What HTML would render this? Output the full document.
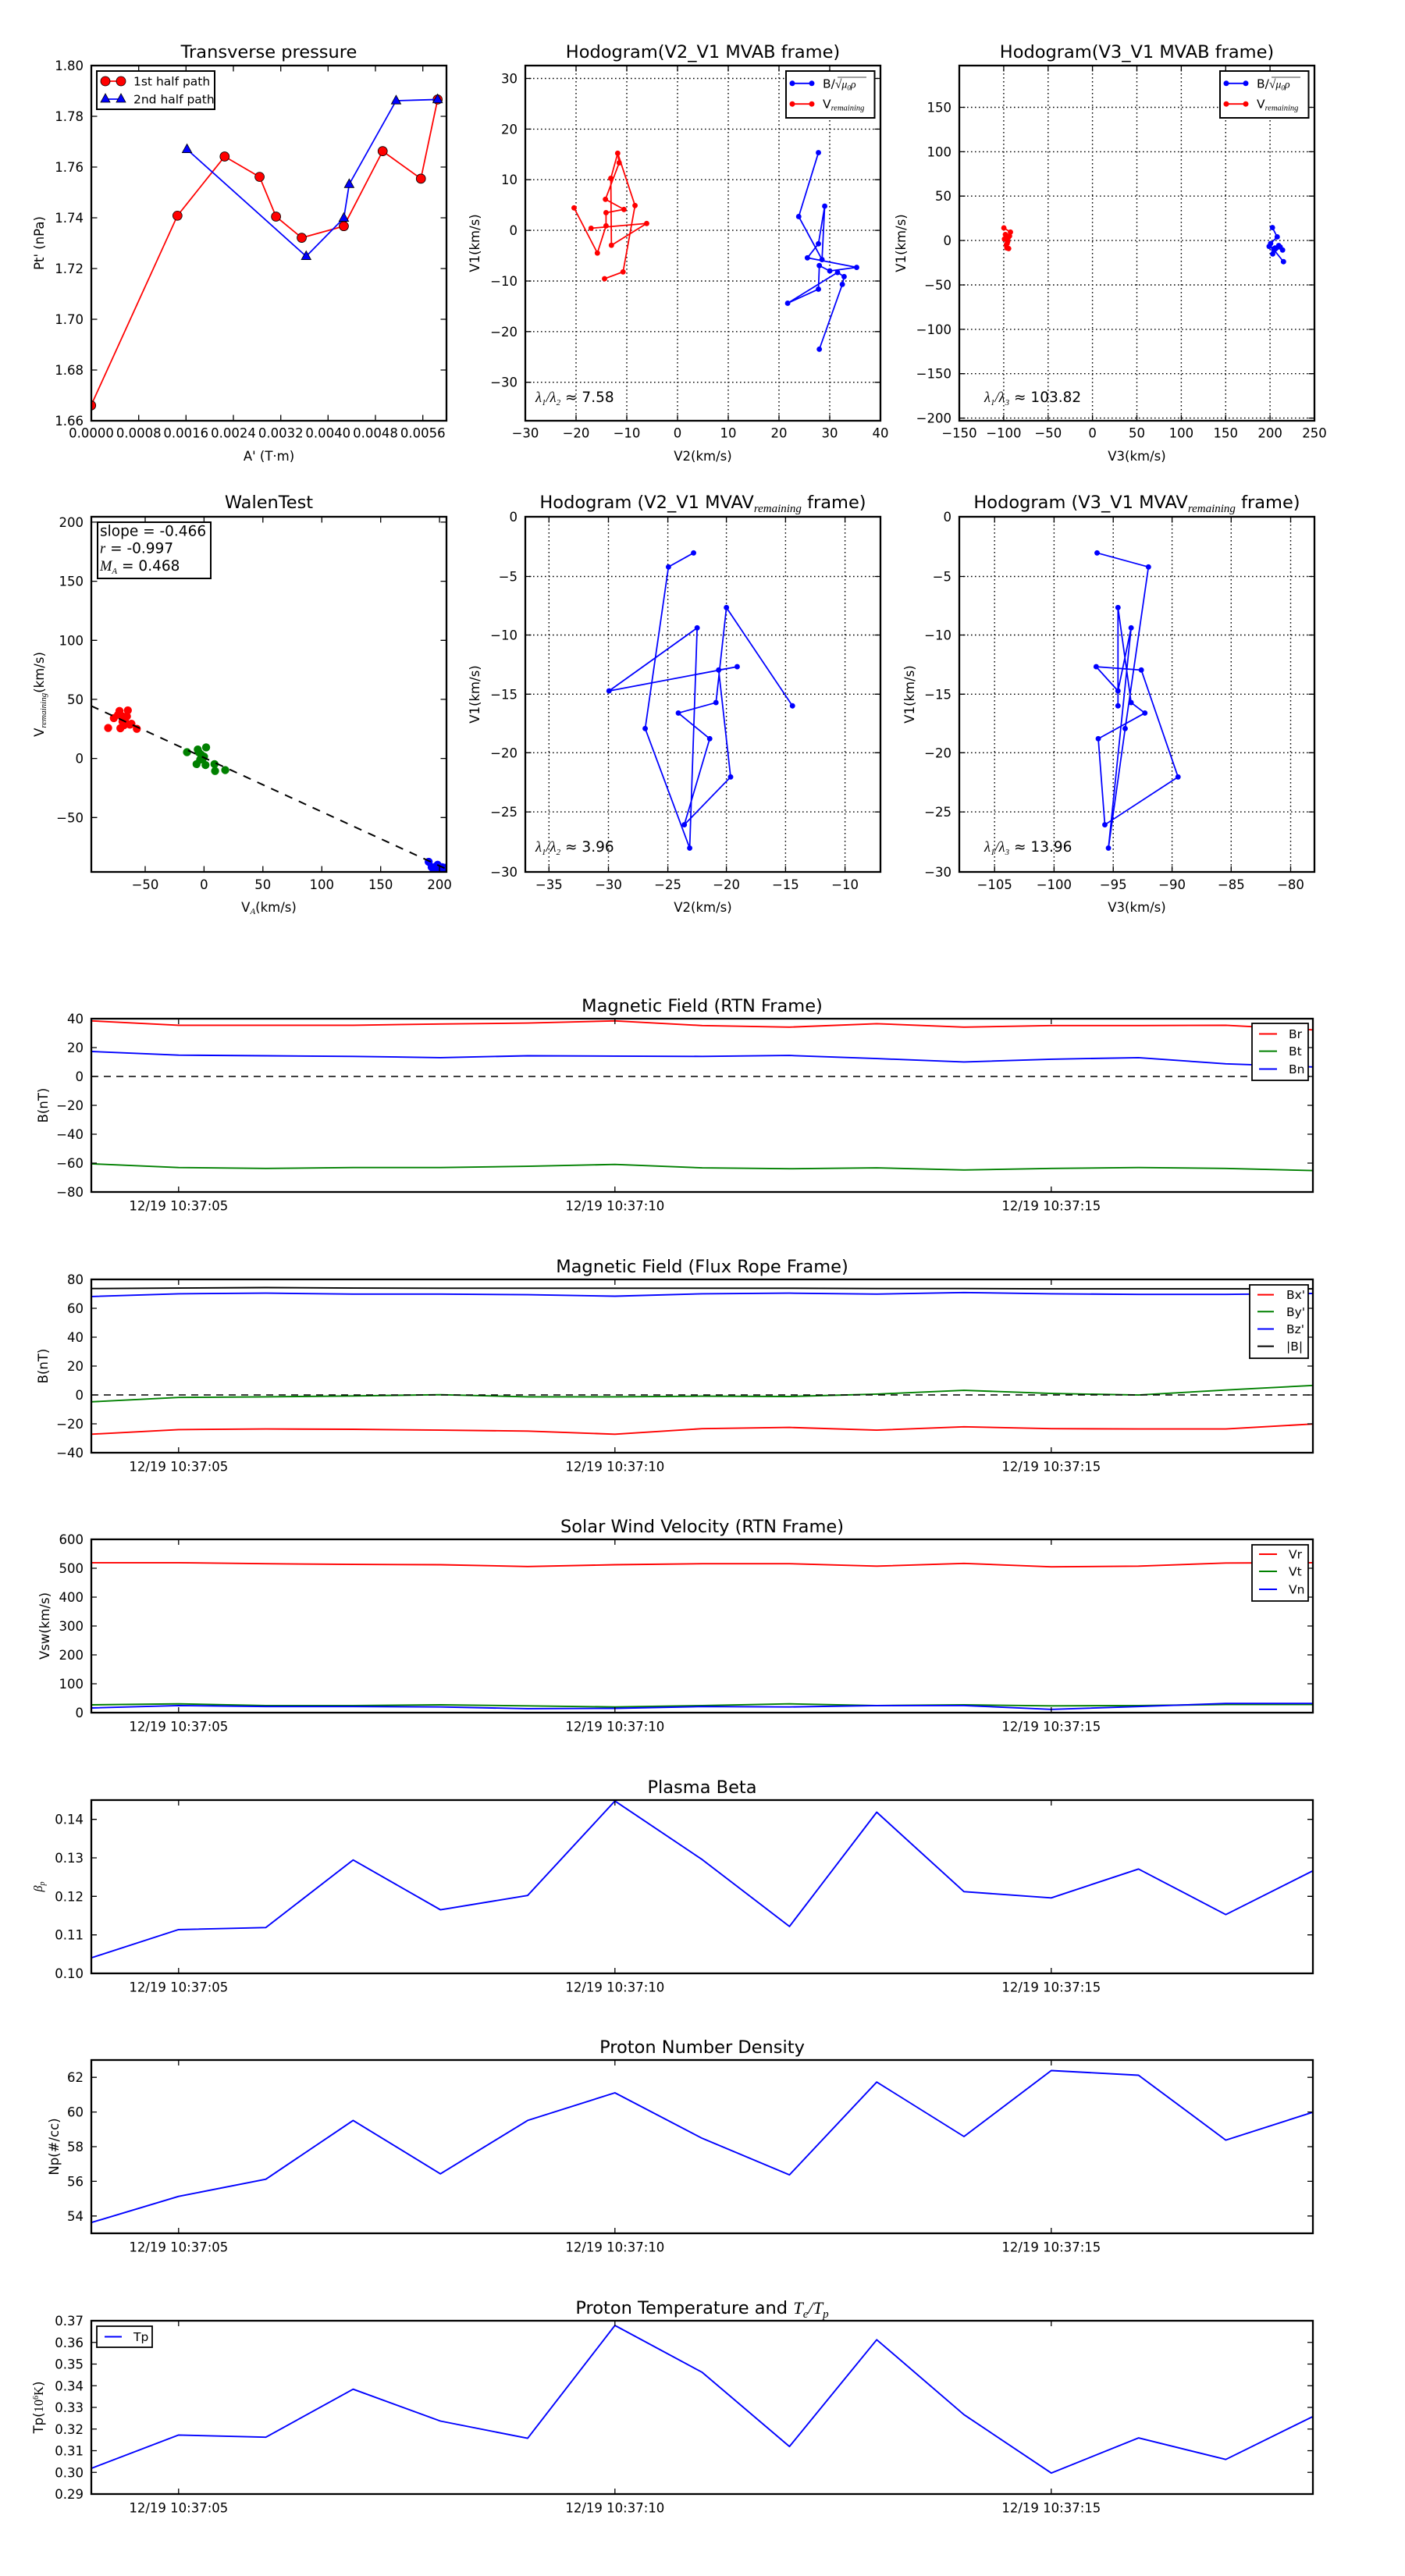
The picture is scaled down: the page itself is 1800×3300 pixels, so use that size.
<!DOCTYPE html>
<html>
<head>
<meta charset="utf-8">
<style>
html,body{margin:0;padding:0;background:#fff;}
svg{display:block;}
text{font-family:"DejaVu Sans","Liberation Sans",sans-serif;fill:#000;}
.tk{font-size:16.5px;}
.ti{font-size:22.5px;}
.lb{font-size:16.5px;}
.lg{font-size:15.5px;}
.m{font-family:"Liberation Serif","DejaVu Serif",serif;font-style:italic;}
.fr{fill:none;stroke:#000;stroke-width:2.3;}
.tks{fill:none;stroke:#000;stroke-width:1.3;}
.grid{fill:none;stroke:#000;stroke-width:1.4;stroke-dasharray:1.6,3.4;}
.ts{fill:none;stroke-width:1.9;stroke-linejoin:round;}
.zl{stroke:#000;stroke-width:1.4;stroke-dasharray:9,7;}
</style>
</head>
<body>
<svg width="1800" height="3300" viewBox="0 0 1800 3300" xmlns="http://www.w3.org/2000/svg">
<defs>
<clipPath id="cTL"><rect x="117" y="84" width="455" height="455"/></clipPath>
<clipPath id="cTM"><rect x="673" y="84" width="455" height="455"/></clipPath>
<clipPath id="cTR"><rect x="1229" y="84" width="455" height="455"/></clipPath>
<clipPath id="cWL"><rect x="117" y="662" width="455" height="455"/></clipPath>
<clipPath id="cMM"><rect x="673" y="662" width="455" height="455"/></clipPath>
<clipPath id="cMR"><rect x="1229" y="662" width="455" height="455"/></clipPath>
</defs>
<rect x="0" y="0" width="1800" height="3300" fill="#fff"/>

<!-- ================= TL: Transverse pressure ================= -->
<text class="ti" x="344.5" y="74" text-anchor="middle">Transverse pressure</text>
<g clip-path="url(#cTL)">
<g transform="scale(0.3827)">
<polyline points="305,1357 594,722 752,524 869,592 924,725 1010,796 1151,757 1281,506 1409,598 1465,333" fill="none" stroke="#f00" stroke-width="4.6"/>
<g fill="#f00" stroke="#000" stroke-width="2.2">
<circle cx="305" cy="1357" r="15.5"/><circle cx="594" cy="722" r="15.5"/><circle cx="752" cy="524" r="15.5"/><circle cx="869" cy="592" r="15.5"/><circle cx="924" cy="725" r="15.5"/><circle cx="1010" cy="796" r="15.5"/><circle cx="1151" cy="757" r="15.5"/><circle cx="1281" cy="506" r="15.5"/><circle cx="1409" cy="598" r="15.5"/><circle cx="1465" cy="333" r="15.5"/>
</g>
<polyline points="626,500 1025,858 1151,730 1169,617 1326,337 1465,333" fill="none" stroke="#00f" stroke-width="4.6"/>
<g fill="#00f" stroke="#000" stroke-width="2.2">
<path d="M626,482 L642,511 L610,511 Z"/><path d="M1025,840 L1041,869 L1009,869 Z"/><path d="M1151,712 L1167,741 L1135,741 Z"/><path d="M1169,599 L1185,628 L1153,628 Z"/><path d="M1326,319 L1342,348 L1310,348 Z"/><path d="M1465,315 L1481,344 L1449,344 Z"/>
</g>
</g>
</g>
<path class="tks" d="M177.7,539v-7.5M177.7,84v7.5M238.3,539v-7.5M238.3,84v7.5M299,539v-7.5M299,84v7.5M359.7,539v-7.5M359.7,84v7.5M420.3,539v-7.5M420.3,84v7.5M481,539v-7.5M481,84v7.5M541.7,539v-7.5M541.7,84v7.5M117,149h7.5M572,149h-7.5M117,214h7.5M572,214h-7.5M117,279h7.5M572,279h-7.5M117,344h7.5M572,344h-7.5M117,409h7.5M572,409h-7.5M117,474h7.5M572,474h-7.5"/>
<rect class="fr" x="117" y="84" width="455" height="455"/>
<g class="tk" text-anchor="middle">
<text x="117" y="560.5">0.0000</text><text x="177.7" y="560.5">0.0008</text><text x="238.3" y="560.5">0.0016</text><text x="299" y="560.5">0.0024</text><text x="359.7" y="560.5">0.0032</text><text x="420.3" y="560.5">0.0040</text><text x="481" y="560.5">0.0048</text><text x="541.7" y="560.5">0.0056</text>
</g>
<g class="tk" text-anchor="end">
<text x="107" y="90">1.80</text><text x="107" y="155">1.78</text><text x="107" y="220">1.76</text><text x="107" y="285">1.74</text><text x="107" y="350">1.72</text><text x="107" y="415">1.70</text><text x="107" y="480">1.68</text><text x="107" y="545">1.66</text>
</g>
<text class="lb" x="344.5" y="590" text-anchor="middle">A' (T·m)</text>
<text class="lb" transform="translate(56,311.5) rotate(-90)" text-anchor="middle">Pt' (nPa)</text>
<rect x="124" y="91" width="151" height="49" fill="#fff" stroke="#000" stroke-width="2"/>
<line x1="135" y1="104" x2="155" y2="104" stroke="#f00" stroke-width="1.8"/>
<circle cx="135" cy="104" r="6" fill="#f00" stroke="#000" stroke-width="0.8"/><circle cx="155" cy="104" r="6" fill="#f00" stroke="#000" stroke-width="0.8"/>
<text class="lg" x="171" y="109.5">1st half path</text>
<line x1="135" y1="127" x2="155" y2="127" stroke="#00f" stroke-width="1.8"/>
<path d="M135,120 L141,131 L129,131 Z M155,120 L161,131 L149,131 Z" fill="#00f" stroke="#000" stroke-width="0.8"/>
<text class="lg" x="171" y="132.5">2nd half path</text>

<!-- ================= TM: Hodogram V2_V1 MVAB ================= -->
<text class="ti" x="900.5" y="74" text-anchor="middle">Hodogram(V2_V1 MVAB frame)</text>
<path class="grid" d="M738,84V539M803,84V539M868,84V539M933,84V539M998,84V539M1063,84V539M673,100.5H1128M673,165.4H1128M673,230.2H1128M673,295.1H1128M673,360H1128M673,424.8H1128M673,489.7H1128"/>
<g clip-path="url(#cTM)">
<g transform="translate(600,0) scale(0.3827)">
<g fill="none" stroke="#f00" stroke-width="4.6" stroke-linejoin="round">
<polyline points="354,696 432,847 461,756 461,712 521,701 459,667 505,545 500,513 558,688 518,910 456,933"/>
<polyline points="411,764 597,748 479,821 477,597 500,513"/>
</g>
<g fill="#f00">
<circle cx="354" cy="696" r="9"/><circle cx="432" cy="847" r="9"/><circle cx="461" cy="756" r="9"/><circle cx="461" cy="712" r="9"/><circle cx="521" cy="701" r="9"/><circle cx="459" cy="667" r="9"/><circle cx="505" cy="545" r="9"/><circle cx="500" cy="513" r="9"/><circle cx="558" cy="688" r="9"/><circle cx="518" cy="910" r="9"/><circle cx="456" cy="933" r="9"/><circle cx="411" cy="764" r="9"/><circle cx="597" cy="748" r="9"/><circle cx="479" cy="821" r="9"/><circle cx="477" cy="597" r="9"/>
</g>
<polyline points="1172,511 1106,725 1184,869 1193,690 1172,816 1135,863 1300,895 1210,907 1175,889 1172,968 1069,1015 1236,912 1258,926 1252,952 1175,1169" fill="none" stroke="#00f" stroke-width="4.6" stroke-linejoin="round"/>
<g fill="#00f">
<circle cx="1172" cy="511" r="9"/><circle cx="1106" cy="725" r="9"/><circle cx="1184" cy="869" r="9"/><circle cx="1193" cy="690" r="9"/><circle cx="1172" cy="816" r="9"/><circle cx="1135" cy="863" r="9"/><circle cx="1300" cy="895" r="9"/><circle cx="1210" cy="907" r="9"/><circle cx="1175" cy="889" r="9"/><circle cx="1172" cy="968" r="9"/><circle cx="1069" cy="1015" r="9"/><circle cx="1236" cy="912" r="9"/><circle cx="1258" cy="926" r="9"/><circle cx="1252" cy="952" r="9"/><circle cx="1175" cy="1169" r="9"/>
</g>
</g>
</g>
<path class="tks" d="M738,539v-7.5M738,84v7.5M803,539v-7.5M803,84v7.5M868,539v-7.5M868,84v7.5M933,539v-7.5M933,84v7.5M998,539v-7.5M998,84v7.5M1063,539v-7.5M1063,84v7.5M673,100.5h7.5M1128,100.5h-7.5M673,165.4h7.5M1128,165.4h-7.5M673,230.2h7.5M1128,230.2h-7.5M673,295.1h7.5M1128,295.1h-7.5M673,360h7.5M1128,360h-7.5M673,424.8h7.5M1128,424.8h-7.5M673,489.7h7.5M1128,489.7h-7.5"/>
<rect class="fr" x="673" y="84" width="455" height="455"/>
<g class="tk" text-anchor="middle">
<text x="673" y="560.5">−30</text><text x="738" y="560.5">−20</text><text x="803" y="560.5">−10</text><text x="868" y="560.5">0</text><text x="933" y="560.5">10</text><text x="998" y="560.5">20</text><text x="1063" y="560.5">30</text><text x="1128" y="560.5">40</text>
</g>
<g class="tk" text-anchor="end">
<text x="663" y="106.5">30</text><text x="663" y="171.4">20</text><text x="663" y="236.2">10</text><text x="663" y="301.1">0</text><text x="663" y="366">−10</text><text x="663" y="430.8">−20</text><text x="663" y="495.7">−30</text>
</g>
<text class="lb" x="900.5" y="590" text-anchor="middle">V2(km/s)</text>
<text class="lb" transform="translate(614,311.5) rotate(-90)" text-anchor="middle">V1(km/s)</text>
<rect x="1007" y="91" width="113.5" height="60" fill="#fff" stroke="#000" stroke-width="2"/>
<line x1="1015" y1="106.8" x2="1040" y2="106.8" stroke="#00f" stroke-width="1.8"/>
<circle cx="1015" cy="106.8" r="3.5" fill="#00f"/><circle cx="1040" cy="106.8" r="3.5" fill="#00f"/>
<text class="lg" x="1054" y="112.5">B/<tspan class="m">√</tspan><tspan class="m" font-size="14">μ</tspan><tspan class="m" font-size="9" dy="3">0</tspan><tspan class="m" font-size="14" dy="-3">ρ</tspan></text>
<line x1="1073" y1="99" x2="1110" y2="99" stroke="#000" stroke-width="0.8"/>
<line x1="1015" y1="133.2" x2="1040" y2="133.2" stroke="#f00" stroke-width="1.8"/>
<circle cx="1015" cy="133.2" r="3.5" fill="#f00"/><circle cx="1040" cy="133.2" r="3.5" fill="#f00"/>
<text class="lg" x="1054" y="138.5">V<tspan class="m" font-size="10.5" dy="3">remaining</tspan></text>
<text x="686" y="515" font-size="18.5"><tspan class="m">λ</tspan><tspan class="m" font-size="11" dy="4">1</tspan><tspan class="m" dy="-4">/λ</tspan><tspan class="m" font-size="11" dy="4">2</tspan><tspan dy="-4"> ≈ 7.58</tspan></text>

<!-- ================= TR: Hodogram V3_V1 MVAB ================= -->
<text class="ti" x="1456.5" y="74" text-anchor="middle">Hodogram(V3_V1 MVAB frame)</text>
<path class="grid" d="M1285.9,84V539M1342.8,84V539M1399.6,84V539M1456.5,84V539M1513.4,84V539M1570.3,84V539M1627.1,84V539M1229,137.5H1684M1229,194.4H1684M1229,251.2H1684M1229,308.1H1684M1229,365H1684M1229,421.9H1684M1229,478.7H1684M1229,535.6H1684"/>
<g clip-path="url(#cTR)">
<g transform="translate(1200,0) scale(0.3827)">
<polyline points="225,763 247,777 227,800 240,795 235,830 241,832 233,820 238,808 244,790 230,785 236,815" fill="none" stroke="#f00" stroke-width="4.6" stroke-linejoin="round"/>
<g fill="#f00">
<circle cx="225" cy="763" r="9"/><circle cx="247" cy="777" r="9"/><circle cx="227" cy="800" r="9"/><circle cx="240" cy="795" r="9"/><circle cx="235" cy="830" r="9"/><circle cx="241" cy="832" r="9"/><circle cx="233" cy="820" r="9"/><circle cx="238" cy="808" r="9"/><circle cx="244" cy="790" r="9"/><circle cx="230" cy="785" r="9"/><circle cx="236" cy="815" r="9"/>
</g>
<polyline points="1124,762 1140,793 1118,815 1113,825 1133,830 1125,850 1150,827 1158,837 1145,822 1128,835 1161,876" fill="none" stroke="#00f" stroke-width="4.6" stroke-linejoin="round"/>
<g fill="#00f">
<circle cx="1124" cy="762" r="9"/><circle cx="1140" cy="793" r="9"/><circle cx="1118" cy="815" r="9"/><circle cx="1113" cy="825" r="9"/><circle cx="1133" cy="830" r="9"/><circle cx="1125" cy="850" r="9"/><circle cx="1150" cy="827" r="9"/><circle cx="1158" cy="837" r="9"/><circle cx="1145" cy="822" r="9"/><circle cx="1128" cy="835" r="9"/><circle cx="1161" cy="876" r="9"/>
</g>
</g>
</g>
<path class="tks" d="M1285.9,539v-7.5M1285.9,84v7.5M1342.8,539v-7.5M1342.8,84v7.5M1399.6,539v-7.5M1399.6,84v7.5M1456.5,539v-7.5M1456.5,84v7.5M1513.4,539v-7.5M1513.4,84v7.5M1570.3,539v-7.5M1570.3,84v7.5M1627.1,539v-7.5M1627.1,84v7.5M1229,137.5h7.5M1684,137.5h-7.5M1229,194.4h7.5M1684,194.4h-7.5M1229,251.2h7.5M1684,251.2h-7.5M1229,308.1h7.5M1684,308.1h-7.5M1229,365h7.5M1684,365h-7.5M1229,421.9h7.5M1684,421.9h-7.5M1229,478.7h7.5M1684,478.7h-7.5M1229,535.6h7.5M1684,535.6h-7.5"/>
<rect class="fr" x="1229" y="84" width="455" height="455"/>
<g class="tk" text-anchor="middle">
<text x="1229" y="560.5">−150</text><text x="1285.9" y="560.5">−100</text><text x="1342.8" y="560.5">−50</text><text x="1399.6" y="560.5">0</text><text x="1456.5" y="560.5">50</text><text x="1513.4" y="560.5">100</text><text x="1570.3" y="560.5">150</text><text x="1627.1" y="560.5">200</text><text x="1684" y="560.5">250</text>
</g>
<g class="tk" text-anchor="end">
<text x="1219" y="143.5">150</text><text x="1219" y="200.4">100</text><text x="1219" y="257.2">50</text><text x="1219" y="314.1">0</text><text x="1219" y="371">−50</text><text x="1219" y="427.9">−100</text><text x="1219" y="484.7">−150</text><text x="1219" y="541.6">−200</text>
</g>
<text class="lb" x="1456.5" y="590" text-anchor="middle">V3(km/s)</text>
<text class="lb" transform="translate(1160,311.5) rotate(-90)" text-anchor="middle">V1(km/s)</text>
<rect x="1563" y="91" width="113.5" height="60" fill="#fff" stroke="#000" stroke-width="2"/>
<line x1="1571" y1="106.8" x2="1596" y2="106.8" stroke="#00f" stroke-width="1.8"/>
<circle cx="1571" cy="106.8" r="3.5" fill="#00f"/><circle cx="1596" cy="106.8" r="3.5" fill="#00f"/>
<text class="lg" x="1610" y="112.5">B/<tspan class="m">√</tspan><tspan class="m" font-size="14">μ</tspan><tspan class="m" font-size="9" dy="3">0</tspan><tspan class="m" font-size="14" dy="-3">ρ</tspan></text>
<line x1="1629" y1="99" x2="1666" y2="99" stroke="#000" stroke-width="0.8"/>
<line x1="1571" y1="133.2" x2="1596" y2="133.2" stroke="#f00" stroke-width="1.8"/>
<circle cx="1571" cy="133.2" r="3.5" fill="#f00"/><circle cx="1596" cy="133.2" r="3.5" fill="#f00"/>
<text class="lg" x="1610" y="138.5">V<tspan class="m" font-size="10.5" dy="3">remaining</tspan></text>
<text x="1261" y="515" font-size="18.5"><tspan class="m">λ</tspan><tspan class="m" font-size="11" dy="4">1</tspan><tspan class="m" dy="-4">/λ</tspan><tspan class="m" font-size="11" dy="4">3</tspan><tspan dy="-4"> ≈ 103.82</tspan></text>

<!-- ================= WL: WalenTest ================= -->
<text class="ti" x="344.5" y="651" text-anchor="middle">WalenTest</text>
<g clip-path="url(#cWL)">
<g transform="translate(0,600) scale(0.3827)">
<g fill="#f00">
<circle cx="362" cy="869" r="13.5"/><circle cx="381" cy="836" r="13.5"/><circle cx="400" cy="812" r="13.5"/><circle cx="403" cy="870" r="13.5"/><circle cx="410" cy="830" r="13.5"/><circle cx="418" cy="843" r="13.5"/><circle cx="428" cy="810" r="13.5"/><circle cx="425" cy="830" r="13.5"/><circle cx="435" cy="858" r="13.5"/><circle cx="415" cy="860" r="13.5"/><circle cx="458" cy="872" r="13.5"/><circle cx="440" cy="855" r="13.5"/><circle cx="395" cy="825" r="13.5"/><circle cx="410" cy="848" r="13.5"/>
</g>
<g fill="#008000">
<circle cx="626" cy="950" r="13.5"/><circle cx="662" cy="941" r="13.5"/><circle cx="690" cy="934" r="13.5"/><circle cx="658" cy="990" r="13.5"/><circle cx="688" cy="993" r="13.5"/><circle cx="718" cy="990" r="13.5"/><circle cx="720" cy="1013" r="13.5"/><circle cx="754" cy="1010" r="13.5"/><circle cx="673" cy="958" r="13.5"/><circle cx="680" cy="970" r="13.5"/><circle cx="670" cy="975" r="13.5"/><circle cx="665" cy="950" r="13.5"/><circle cx="683" cy="965" r="13.5"/>
</g>
<g fill="#00f">
<circle cx="1435" cy="1317" r="13.5"/><circle cx="1445" cy="1335" r="13.5"/><circle cx="1465" cy="1327" r="13.5"/><circle cx="1480" cy="1335" r="13.5"/><circle cx="1490" cy="1337" r="13.5"/><circle cx="1450" cy="1340" r="13.5"/><circle cx="1470" cy="1340" r="13.5"/><circle cx="1460" cy="1332" r="13.5"/>
</g>
<line x1="305" y1="795" x2="1492" y2="1340" stroke="#000" stroke-width="5.2" stroke-dasharray="27,24"/>
</g>
</g>
<path class="tks" d="M186,1117v-7.5M186,662v7.5M261.4,1117v-7.5M261.4,662v7.5M336.8,1117v-7.5M336.8,662v7.5M412.3,1117v-7.5M412.3,662v7.5M487.7,1117v-7.5M487.7,662v7.5M563.1,1117v-7.5M563.1,662v7.5M117,668.9h7.5M572,668.9h-7.5M117,744.6h7.5M572,744.6h-7.5M117,820.3h7.5M572,820.3h-7.5M117,895.9h7.5M572,895.9h-7.5M117,971.6h7.5M572,971.6h-7.5M117,1047.3h7.5M572,1047.3h-7.5"/>
<rect class="fr" x="117" y="662" width="455" height="455"/>
<g class="tk" text-anchor="middle">
<text x="186" y="1139">−50</text><text x="261.4" y="1139">0</text><text x="336.8" y="1139">50</text><text x="412.3" y="1139">100</text><text x="487.7" y="1139">150</text><text x="563.1" y="1139">200</text>
</g>
<g class="tk" text-anchor="end">
<text x="107" y="674.9">200</text><text x="107" y="750.6">150</text><text x="107" y="826.3">100</text><text x="107" y="901.9">50</text><text x="107" y="977.6">0</text><text x="107" y="1053.3">−50</text>
</g>
<text class="lb" x="344.5" y="1168" text-anchor="middle">V<tspan class="m" font-size="11" dy="3">A</tspan><tspan dy="-3">(km/s)</tspan></text>
<text class="lb" transform="translate(56,889.5) rotate(-90)" text-anchor="middle">V<tspan class="m" font-size="11" dy="3">remaining</tspan><tspan dy="-3">(km/s)</tspan></text>
<rect x="125" y="669" width="145" height="72" fill="#fff" stroke="#000" stroke-width="2"/>
<text x="128" y="686.5" font-size="18.5">slope = -0.466</text>
<text x="128" y="708.5" font-size="18.5"><tspan class="m">r</tspan> = -0.997</text>
<text x="128" y="731" font-size="18.5"><tspan class="m">M</tspan><tspan class="m" font-size="11" dy="4">A</tspan><tspan dy="-4"> = 0.468</tspan></text>

<!-- ================= MM: Hodogram V2_V1 MVAV ================= -->
<text class="ti" x="900.5" y="651" text-anchor="middle">Hodogram (V2_V1 MVAV<tspan class="m" font-size="15" dy="5">remaining</tspan><tspan dy="-5"> frame)</tspan></text>
<path class="grid" d="M703.3,662V1117M779.5,662V1117M855.6,662V1117M930.6,662V1117M1006.4,662V1117M1082.6,662V1117M673,738.5H1128M673,813.5H1128M673,889.3H1128M673,964.3H1128M673,1040.1H1128"/>
<g clip-path="url(#cMM)">
<g transform="translate(600,600) scale(0.3827)">
<polyline points="754,283 670,330 592,871 741,1271 766,534 471,745 900,664 838,675 878,1033 723,1193 808,905 703,819 829,784 864,466 1085,795" fill="none" stroke="#00f" stroke-width="4.6" stroke-linejoin="round"/>
<g fill="#00f">
<circle cx="754" cy="283" r="9"/><circle cx="670" cy="330" r="9"/><circle cx="592" cy="871" r="9"/><circle cx="741" cy="1271" r="9"/><circle cx="766" cy="534" r="9"/><circle cx="471" cy="745" r="9"/><circle cx="900" cy="664" r="9"/><circle cx="838" cy="675" r="9"/><circle cx="878" cy="1033" r="9"/><circle cx="723" cy="1193" r="9"/><circle cx="808" cy="905" r="9"/><circle cx="703" cy="819" r="9"/><circle cx="829" cy="784" r="9"/><circle cx="864" cy="466" r="9"/><circle cx="1085" cy="795" r="9"/>
</g>
</g>
</g>
<path class="tks" d="M703.3,1117v-7.5M703.3,662v7.5M779.5,1117v-7.5M779.5,662v7.5M855.6,1117v-7.5M855.6,662v7.5M930.6,1117v-7.5M930.6,662v7.5M1006.4,1117v-7.5M1006.4,662v7.5M1082.6,1117v-7.5M1082.6,662v7.5M673,738.5h7.5M1128,738.5h-7.5M673,813.5h7.5M1128,813.5h-7.5M673,889.3h7.5M1128,889.3h-7.5M673,964.3h7.5M1128,964.3h-7.5M673,1040.1h7.5M1128,1040.1h-7.5"/>
<rect class="fr" x="673" y="662" width="455" height="455"/>
<g class="tk" text-anchor="middle">
<text x="703.3" y="1139">−35</text><text x="779.5" y="1139">−30</text><text x="855.6" y="1139">−25</text><text x="930.6" y="1139">−20</text><text x="1006.4" y="1139">−15</text><text x="1082.6" y="1139">−10</text>
</g>
<g class="tk" text-anchor="end">
<text x="663" y="668">0</text><text x="663" y="744.5">−5</text><text x="663" y="819.5">−10</text><text x="663" y="895.3">−15</text><text x="663" y="970.3">−20</text><text x="663" y="1046.1">−25</text><text x="663" y="1123">−30</text>
</g>
<text class="lb" x="900.5" y="1168" text-anchor="middle">V2(km/s)</text>
<text class="lb" transform="translate(614,889.5) rotate(-90)" text-anchor="middle">V1(km/s)</text>
<text x="686" y="1091" font-size="18.5"><tspan class="m">λ</tspan><tspan class="m" font-size="11" dy="4">1</tspan><tspan class="m" dy="-4">/λ</tspan><tspan class="m" font-size="11" dy="4">2</tspan><tspan dy="-4"> ≈ 3.96</tspan></text>

<!-- ================= MR: Hodogram V3_V1 MVAV ================= -->
<text class="ti" x="1456.5" y="651" text-anchor="middle">Hodogram (V3_V1 MVAV<tspan class="m" font-size="15" dy="5">remaining</tspan><tspan dy="-5"> frame)</tspan></text>
<path class="grid" d="M1274.2,662V1117M1350.4,662V1117M1426.2,662V1117M1501.6,662V1117M1577.3,662V1117M1653.5,662V1117M1229,738.5H1684M1229,813.5H1684M1229,889.3H1684M1229,964.3H1684M1229,1040.1H1684"/>
<g clip-path="url(#cMR)">
<g transform="translate(1200,600) scale(0.3827)">
<polyline points="537,283 709,330 631,871 575,1271 651,534 607,745 534,664 685,675 808,1033 563,1193 541,905 697,819 651,784 607,466 607,795" fill="none" stroke="#00f" stroke-width="4.6" stroke-linejoin="round"/>
<g fill="#00f">
<circle cx="537" cy="283" r="9"/><circle cx="709" cy="330" r="9"/><circle cx="631" cy="871" r="9"/><circle cx="575" cy="1271" r="9"/><circle cx="651" cy="534" r="9"/><circle cx="607" cy="745" r="9"/><circle cx="534" cy="664" r="9"/><circle cx="685" cy="675" r="9"/><circle cx="808" cy="1033" r="9"/><circle cx="563" cy="1193" r="9"/><circle cx="541" cy="905" r="9"/><circle cx="697" cy="819" r="9"/><circle cx="651" cy="784" r="9"/><circle cx="607" cy="466" r="9"/><circle cx="607" cy="795" r="9"/>
</g>
</g>
</g>
<path class="tks" d="M1274.2,1117v-7.5M1274.2,662v7.5M1350.4,1117v-7.5M1350.4,662v7.5M1426.2,1117v-7.5M1426.2,662v7.5M1501.6,1117v-7.5M1501.6,662v7.5M1577.3,1117v-7.5M1577.3,662v7.5M1653.5,1117v-7.5M1653.5,662v7.5M1229,738.5h7.5M1684,738.5h-7.5M1229,813.5h7.5M1684,813.5h-7.5M1229,889.3h7.5M1684,889.3h-7.5M1229,964.3h7.5M1684,964.3h-7.5M1229,1040.1h7.5M1684,1040.1h-7.5"/>
<rect class="fr" x="1229" y="662" width="455" height="455"/>
<g class="tk" text-anchor="middle">
<text x="1274.2" y="1139">−105</text><text x="1350.4" y="1139">−100</text><text x="1426.2" y="1139">−95</text><text x="1501.6" y="1139">−90</text><text x="1577.3" y="1139">−85</text><text x="1653.5" y="1139">−80</text>
</g>
<g class="tk" text-anchor="end">
<text x="1219" y="668">0</text><text x="1219" y="744.5">−5</text><text x="1219" y="819.5">−10</text><text x="1219" y="895.3">−15</text><text x="1219" y="970.3">−20</text><text x="1219" y="1046.1">−25</text><text x="1219" y="1123">−30</text>
</g>
<text class="lb" x="1456.5" y="1168" text-anchor="middle">V3(km/s)</text>
<text class="lb" transform="translate(1171,889.5) rotate(-90)" text-anchor="middle">V1(km/s)</text>
<text x="1261" y="1091" font-size="18.5"><tspan class="m">λ</tspan><tspan class="m" font-size="11" dy="4">1</tspan><tspan class="m" dy="-4">/λ</tspan><tspan class="m" font-size="11" dy="4">3</tspan><tspan dy="-4"> ≈ 13.96</tspan></text>

<!-- ================= TS1: Magnetic Field RTN ================= -->
<text class="ti" x="899.5" y="1296" text-anchor="middle">Magnetic Field (RTN Frame)</text>
<polyline class="ts" stroke="#f00" points="117,1307.8 228.8,1313.4 340.6,1313.4 452.4,1313.4 564.2,1311.8 676,1310.6 787.8,1307.8 899.6,1313.8 1011.4,1315.8 1123.2,1311.4 1235,1315.8 1346.8,1313.8 1458.6,1313.8 1570.4,1313.4 1682.2,1319.3"/>
<polyline class="ts" stroke="#008000" points="117,1490.9 228.8,1495.7 340.6,1496.8 452.4,1495.7 564.2,1495.7 676,1494.1 787.8,1491.7 899.6,1496.1 1011.4,1497.2 1123.2,1496.1 1235,1498.8 1346.8,1496.8 1458.6,1495.7 1570.4,1496.8 1682.2,1499.6"/>
<polyline class="ts" stroke="#00f" points="117,1347 228.8,1351.7 340.6,1352.5 452.4,1353.3 564.2,1354.9 676,1352.5 787.8,1352.9 899.6,1353.3 1011.4,1352.1 1123.2,1356.1 1235,1360.4 1346.8,1356.9 1458.6,1354.9 1570.4,1362.8 1682.2,1366.8"/>
<line class="zl" x1="117" y1="1379" x2="1682" y2="1379"/>
<path class="tks" d="M228.8,1527v-7M228.8,1305v7M787.8,1527v-7M787.8,1305v7M1346.8,1527v-7M1346.8,1305v7M117,1342h7M1682,1342h-7M117,1379h7M1682,1379h-7M117,1416h7M1682,1416h-7M117,1453h7M1682,1453h-7M117,1490h7M1682,1490h-7"/>
<rect class="fr" x="117" y="1305" width="1565" height="222"/>
<g class="tk" text-anchor="end">
<text x="107" y="1311">40</text><text x="107" y="1348">20</text><text x="107" y="1385">0</text><text x="107" y="1422">−20</text><text x="107" y="1459">−40</text><text x="107" y="1496">−60</text><text x="107" y="1533">−80</text>
</g>
<g class="tk" text-anchor="middle">
<text x="228.8" y="1550.6">12/19 10:37:05</text><text x="787.8" y="1550.6">12/19 10:37:10</text><text x="1346.8" y="1550.6">12/19 10:37:15</text>
</g>
<text class="lb" transform="translate(61,1416) rotate(-90)" text-anchor="middle">B(nT)</text>
<rect x="1604" y="1311" width="72" height="73" fill="#fff" stroke="#000" stroke-width="1.8"/>
<line x1="1613" y1="1324.5" x2="1636" y2="1324.5" stroke="#f00" stroke-width="2"/>
<line x1="1613" y1="1346.6" x2="1636" y2="1346.6" stroke="#008000" stroke-width="2"/>
<line x1="1613" y1="1369.5" x2="1636" y2="1369.5" stroke="#00f" stroke-width="2"/>
<text class="lg" x="1651" y="1330">Br</text><text class="lg" x="1651" y="1352">Bt</text><text class="lg" x="1651" y="1375">Bn</text>

<!-- ================= TS2: Flux Rope ================= -->
<text class="ti" x="899.5" y="1630" text-anchor="middle">Magnetic Field (Flux Rope Frame)</text>
<polyline class="ts" stroke="#f00" points="117,1837.3 228.8,1831.4 340.6,1830.6 452.4,1831 564.2,1832.1 676,1833.3 787.8,1837.3 899.6,1830.2 1011.4,1828.6 1123.2,1832.1 1235,1827.8 1346.8,1830.2 1458.6,1830.6 1570.4,1830.6 1682.2,1824.2"/>
<polyline class="ts" stroke="#008000" points="117,1795.8 228.8,1790.2 340.6,1789.4 452.4,1788.3 564.2,1786.7 676,1789.4 787.8,1789.4 899.6,1788.6 1011.4,1789 1123.2,1785.9 1235,1781.1 1346.8,1785.1 1458.6,1787.1 1570.4,1780.7 1682.2,1774.8"/>
<polyline class="ts" stroke="#00f" points="117,1660.9 228.8,1657.4 340.6,1656.6 452.4,1657.8 564.2,1657.8 676,1658.6 787.8,1660.5 899.6,1657.4 1011.4,1656.6 1123.2,1657.8 1235,1655.8 1346.8,1657.4 1458.6,1658.2 1570.4,1658.2 1682.2,1657"/>
<polyline class="ts" stroke="#000" points="117,1650.7 228.8,1650.1 340.6,1649.5 452.4,1650.1 564.2,1650.3 676,1650.3 787.8,1650.3 899.6,1650.3 1011.4,1650.3 1123.2,1650.7 1235,1650.7 1346.8,1651.1 1458.6,1651.1 1570.4,1651.1 1682.2,1651.1"/>
<line class="zl" x1="117" y1="1787" x2="1682" y2="1787"/>
<path class="tks" d="M228.8,1861v-7M228.8,1639v7M787.8,1861v-7M787.8,1639v7M1346.8,1861v-7M1346.8,1639v7M117,1676h7M1682,1676h-7M117,1713h7M1682,1713h-7M117,1750h7M1682,1750h-7M117,1787h7M1682,1787h-7M117,1824h7M1682,1824h-7"/>
<rect class="fr" x="117" y="1639" width="1565" height="222"/>
<g class="tk" text-anchor="end">
<text x="107" y="1645">80</text><text x="107" y="1682">60</text><text x="107" y="1719">40</text><text x="107" y="1756">20</text><text x="107" y="1793">0</text><text x="107" y="1830">−20</text><text x="107" y="1867">−40</text>
</g>
<g class="tk" text-anchor="middle">
<text x="228.8" y="1884.6">12/19 10:37:05</text><text x="787.8" y="1884.6">12/19 10:37:10</text><text x="1346.8" y="1884.6">12/19 10:37:15</text>
</g>
<text class="lb" transform="translate(61,1750) rotate(-90)" text-anchor="middle">B(nT)</text>
<rect x="1601" y="1646" width="75" height="94" fill="#fff" stroke="#000" stroke-width="1.8"/>
<line x1="1611" y1="1658.6" x2="1632" y2="1658.6" stroke="#f00" stroke-width="2"/>
<line x1="1611" y1="1680.3" x2="1632" y2="1680.3" stroke="#008000" stroke-width="2"/>
<line x1="1611" y1="1702.5" x2="1632" y2="1702.5" stroke="#00f" stroke-width="2"/>
<line x1="1611" y1="1724.6" x2="1632" y2="1724.6" stroke="#000" stroke-width="2"/>
<text class="lg" x="1648" y="1664">Bx'</text><text class="lg" x="1648" y="1686">By'</text><text class="lg" x="1648" y="1708">Bz'</text><text class="lg" x="1648" y="1730">|B|</text>

<!-- ================= TS3: Solar Wind Velocity ================= -->
<text class="ti" x="899.5" y="1963" text-anchor="middle">Solar Wind Velocity (RTN Frame)</text>
<polyline class="ts" stroke="#f00" points="117,2001.9 228.8,2001.9 340.6,2003.2 452.4,2004.1 564.2,2004.5 676,2006.8 787.8,2004.5 899.6,2003.2 1011.4,2003.2 1123.2,2006.3 1235,2002.8 1346.8,2007.2 1458.6,2006.3 1570.4,2002.3 1682.2,2001.9"/>
<polyline class="ts" stroke="#008000" points="117,2184 228.8,2182.7 340.6,2184.9 452.4,2184.9 564.2,2184 676,2185.3 787.8,2186.7 899.6,2184.9 1011.4,2182.7 1123.2,2184.9 1235,2184 1346.8,2185.3 1458.6,2184.9 1570.4,2183.6 1682.2,2183.6"/>
<polyline class="ts" stroke="#00f" points="117,2188 228.8,2184.9 340.6,2186.2 452.4,2186.2 564.2,2186.7 676,2188.9 787.8,2188.5 899.6,2186.2 1011.4,2186.7 1123.2,2184.9 1235,2184.9 1346.8,2189.8 1458.6,2186.2 1570.4,2182.2 1682.2,2182.2"/>
<path class="tks" d="M228.8,2194v-7M228.8,1972v7M787.8,2194v-7M787.8,1972v7M1346.8,2194v-7M1346.8,1972v7M117,2009h7M1682,2009h-7M117,2046h7M1682,2046h-7M117,2083h7M1682,2083h-7M117,2120h7M1682,2120h-7M117,2157h7M1682,2157h-7"/>
<rect class="fr" x="117" y="1972" width="1565" height="222"/>
<g class="tk" text-anchor="end">
<text x="107" y="1978">600</text><text x="107" y="2015">500</text><text x="107" y="2052">400</text><text x="107" y="2089">300</text><text x="107" y="2126">200</text><text x="107" y="2163">100</text><text x="107" y="2200">0</text>
</g>
<g class="tk" text-anchor="middle">
<text x="228.8" y="2217.6">12/19 10:37:05</text><text x="787.8" y="2217.6">12/19 10:37:10</text><text x="1346.8" y="2217.6">12/19 10:37:15</text>
</g>
<text class="lb" transform="translate(63,2083) rotate(-90)" text-anchor="middle">Vsw(km/s)</text>
<rect x="1604" y="1979" width="72" height="72" fill="#fff" stroke="#000" stroke-width="1.8"/>
<line x1="1613" y1="1991" x2="1636" y2="1991" stroke="#f00" stroke-width="2"/>
<line x1="1613" y1="2013" x2="1636" y2="2013" stroke="#008000" stroke-width="2"/>
<line x1="1613" y1="2036" x2="1636" y2="2036" stroke="#00f" stroke-width="2"/>
<text class="lg" x="1651" y="1996.5">Vr</text><text class="lg" x="1651" y="2018.5">Vt</text><text class="lg" x="1651" y="2041.5">Vn</text>

<!-- ================= TS4: Plasma Beta ================= -->
<text class="ti" x="899.5" y="2297" text-anchor="middle">Plasma Beta</text>
<polyline class="ts" stroke="#00f" points="117,2508.1 228.8,2471.9 340.6,2469.3 452.4,2382.7 564.2,2446.5 676,2428.2 787.8,2307.2 899.6,2382.2 1011.4,2467.9 1123.2,2321.5 1235,2423.3 1346.8,2431.3 1458.6,2394.3 1570.4,2452.7 1682.2,2396.5"/>
<path class="tks" d="M228.8,2528v-7M228.8,2306v7M787.8,2528v-7M787.8,2306v7M1346.8,2528v-7M1346.8,2306v7M117,2330.7h7M1682,2330.7h-7M117,2380h7M1682,2380h-7M117,2429.3h7M1682,2429.3h-7M117,2478.7h7M1682,2478.7h-7"/>
<rect class="fr" x="117" y="2306" width="1565" height="222"/>
<g class="tk" text-anchor="end">
<text x="107" y="2336.7">0.14</text><text x="107" y="2386">0.13</text><text x="107" y="2435.3">0.12</text><text x="107" y="2484.7">0.11</text><text x="107" y="2534">0.10</text>
</g>
<g class="tk" text-anchor="middle">
<text x="228.8" y="2551.6">12/19 10:37:05</text><text x="787.8" y="2551.6">12/19 10:37:10</text><text x="1346.8" y="2551.6">12/19 10:37:15</text>
</g>
<text transform="translate(54,2417) rotate(-90)" text-anchor="middle" font-size="16"><tspan class="m">β</tspan><tspan class="m" font-size="10" dy="3">p</tspan></text>

<!-- ================= TS5: Proton Number Density ================= -->
<text class="ti" x="899.5" y="2630" text-anchor="middle">Proton Number Density</text>
<polyline class="ts" stroke="#00f" points="117,2847.2 228.8,2813.7 340.6,2791.7 452.4,2716.4 564.2,2784.8 676,2716.4 787.8,2681 899.6,2739.3 1011.4,2786.1 1123.2,2667.2 1235,2737 1346.8,2652.5 1458.6,2658.5 1570.4,2741.6 1682.2,2705.8"/>
<path class="tks" d="M228.8,2861v-7M228.8,2639v7M787.8,2861v-7M787.8,2639v7M1346.8,2861v-7M1346.8,2639v7M117,2661.2h7M1682,2661.2h-7M117,2705.6h7M1682,2705.6h-7M117,2750h7M1682,2750h-7M117,2794.4h7M1682,2794.4h-7M117,2838.8h7M1682,2838.8h-7"/>
<rect class="fr" x="117" y="2639" width="1565" height="222"/>
<g class="tk" text-anchor="end">
<text x="107" y="2667.2">62</text><text x="107" y="2711.6">60</text><text x="107" y="2756">58</text><text x="107" y="2800.4">56</text><text x="107" y="2844.8">54</text>
</g>
<g class="tk" text-anchor="middle">
<text x="228.8" y="2884.6">12/19 10:37:05</text><text x="787.8" y="2884.6">12/19 10:37:10</text><text x="1346.8" y="2884.6">12/19 10:37:15</text>
</g>
<text class="lb" transform="translate(75,2750) rotate(-90)" text-anchor="middle">Np(#/cc)</text>

<!-- ================= TS6: Proton Temperature ================= -->
<text class="ti" x="899.5" y="2964" text-anchor="middle">Proton Temperature and <tspan class="m">T</tspan><tspan class="m" font-size="15" dy="5">e</tspan><tspan class="m" dy="-5">/T</tspan><tspan class="m" font-size="15" dy="5">p</tspan></text>
<polyline class="ts" stroke="#00f" points="117,3162.1 228.8,3119.4 340.6,3122.2 452.4,3060.7 564.2,3101.5 676,3123.6 787.8,2979 899.6,3039.1 1011.4,3134.1 1123.2,2997.3 1235,3093.3 1346.8,3168.1 1458.6,3123.1 1570.4,3150.7 1682.2,3095.6"/>
<path class="tks" d="M228.8,3195v-7M228.8,2973v7M787.8,3195v-7M787.8,2973v7M1346.8,3195v-7M1346.8,2973v7M117,3000.75h7M1682,3000.75h-7M117,3028.5h7M1682,3028.5h-7M117,3056.25h7M1682,3056.25h-7M117,3084h7M1682,3084h-7M117,3111.75h7M1682,3111.75h-7M117,3139.5h7M1682,3139.5h-7M117,3167.25h7M1682,3167.25h-7"/>
<rect class="fr" x="117" y="2973" width="1565" height="222"/>
<g class="tk" text-anchor="end">
<text x="107" y="2979">0.37</text><text x="107" y="3006.75">0.36</text><text x="107" y="3034.5">0.35</text><text x="107" y="3062.25">0.34</text><text x="107" y="3090">0.33</text><text x="107" y="3117.75">0.32</text><text x="107" y="3145.5">0.31</text><text x="107" y="3173.25">0.30</text><text x="107" y="3201">0.29</text>
</g>
<g class="tk" text-anchor="middle">
<text x="228.8" y="3218.6">12/19 10:37:05</text><text x="787.8" y="3218.6">12/19 10:37:10</text><text x="1346.8" y="3218.6">12/19 10:37:15</text>
</g>
<text class="lb" transform="translate(55,3084) rotate(-90)" text-anchor="middle">Tp(<tspan font-family="Liberation Serif, DejaVu Serif, serif">10</tspan><tspan font-family="Liberation Serif, DejaVu Serif, serif" font-size="10" dy="-6">6</tspan><tspan font-family="Liberation Serif, DejaVu Serif, serif" dy="6">K</tspan>)</text>
<rect x="124" y="2980" width="71" height="27" fill="#fff" stroke="#000" stroke-width="1.8"/>
<line x1="134" y1="2993.5" x2="156" y2="2993.5" stroke="#00f" stroke-width="2"/>
<text class="lg" x="171" y="2999">Tp</text>
</svg>
</body>
</html>
